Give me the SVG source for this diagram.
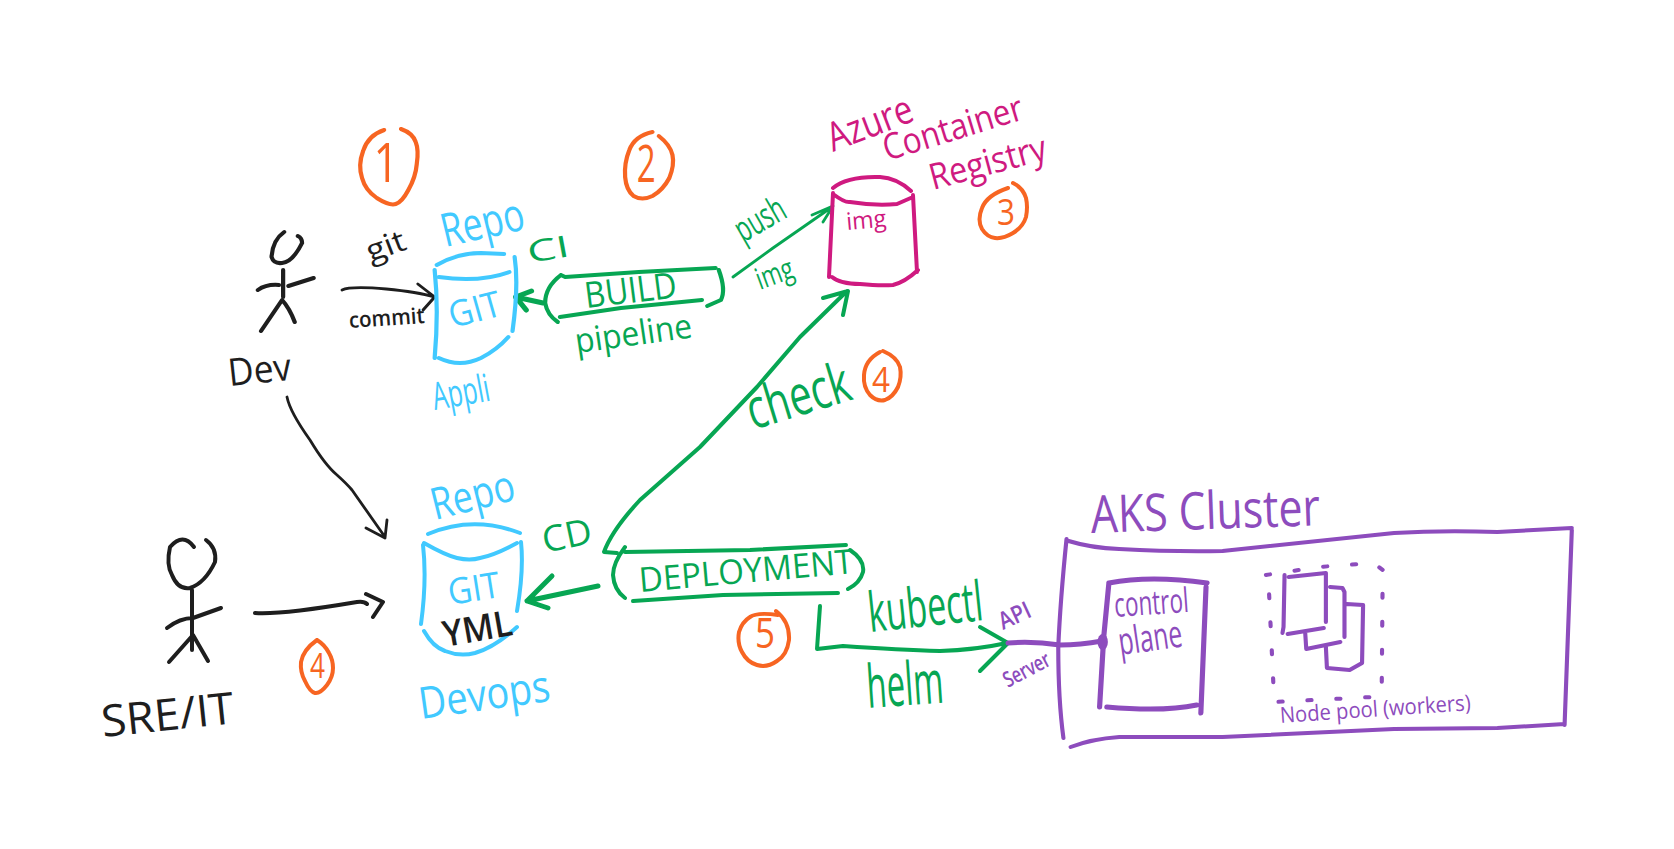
<svg xmlns="http://www.w3.org/2000/svg" width="1674" height="849" viewBox="0 0 1674 849">
<style>
path{fill:none;stroke-linecap:round;stroke-linejoin:round;stroke-width:4}
text{font-family:"Open Sans","Liberation Sans",sans-serif}
.o path,path.o{stroke:#f76522}.o text,text.o{fill:#f76522}
.b path{stroke:#41c9ff}.b text,text.b{fill:#41c9ff}
.g path,path.g{stroke:#07a653}.g text,text.g{fill:#07a653}
.m path{stroke:#cf1a80}.m text{fill:#cf1a80}
.p path,path.p{stroke:#8d4cbd}.p text,text.p{fill:#8d4cbd}
.k path,path.k{stroke:#1e1e1e}.k text,text.k{fill:#1e1e1e}
.t{stroke-width:2.8}.w{stroke-width:5}
</style>
<rect width="1674" height="849" fill="#fff"/>
<g id="connectors">
<path class="k t" transform="matrix(1.0523 0 0 1 -10.46 0)" d="M335 290Q343 286 377 289Q407 292 423 297M407 284L423 297L412 310"/>
<path class="k t" d="M287 397Q290 412 310 440Q325 465 337 475Q347 484 352 490L385 537M366 528L385 538L387 520"/>
<path class="k" d="M255 613Q280 615 357 602Q364 601 367 604M366 594L383 602L373 617"/>
<path class="g w" transform="matrix(1.0523 0 0 1 -10.46 0)" d="M526 303L500 297M515 291L500 297L510 310"/>
<path class="g t" d="M733 277L773 248L832 207M812 215L833 206L823 222"/>
<path class="g" d="M617 553L604 552Q612 530 640 500L700 447L757 387L800 337L847 291M823 298L848 291L843 315"/>
<path class="g w" d="M598 586L527 601M552 576L527 601L548 608"/>
<path class="g" d="M820 606L817 649L843 646Q900 650 940 651Q975 650 1007 643M980 627L1008 643L980 671"/>
<path class="p w" d="M1008 643Q1033 641 1060 645Q1080 645 1102 641"/>
</g>
<g id="badge-1" class="o" transform="matrix(1.0523 0 0 1 -10.46 0)"><path d="M375 130Q360 135 355 151Q350 165 354 178Q357 190 368 198Q380 206 386 204Q392 202 398 190Q405 177 406 164Q408 150 405 142Q402 133 391 129"/><text x="365" y="182" font-size="54" textLength="24" lengthAdjust="spacingAndGlyphs">1</text></g>
<g id="badge-2" class="o" transform="matrix(1.0523 0 0 1 -10.46 0)"><path d="M630 132Q613 136 608 150Q603 163 604 177Q605 190 612 196Q620 201 630 196Q640 190 646 178Q651 165 649 155Q647 145 636 136"/><text x="615" y="182" font-size="52" textLength="18" lengthAdjust="spacingAndGlyphs">2</text></g>
<g id="badge-3" class="o"><path d="M1008 188Q987 195 982 208Q977 220 982 229Q987 237 995 238Q1003 239 1013 233Q1023 227 1026 217Q1028 207 1026 198Q1023 188 1013 183"/><text x="997" y="225" font-size="36" textLength="18" lengthAdjust="spacingAndGlyphs">3</text></g>
<g id="badge-4-check" class="o"><path d="M880 352Q865 360 864 375Q863 387 870 395Q877 402 885 400Q893 397 898 387Q902 377 900 367Q897 357 883 351"/><text x="872" y="392" font-size="34" textLength="18" lengthAdjust="spacingAndGlyphs">4</text></g>
<g id="badge-4-sre" class="o"><path d="M317 640Q303 650 301 662Q300 672 305 681Q310 692 315 693Q320 694 327 685Q333 677 333 668Q333 660 329 653Q325 645 317 640"/><text x="310" y="678" font-size="34" textLength="15" lengthAdjust="spacingAndGlyphs">4</text></g>
<g id="badge-5" class="o"><path d="M776 611Q790 622 789 640Q787 655 777 661Q767 668 757 665Q747 662 742 652Q737 643 739 632Q742 622 750 617Q757 612 778 615"/><text x="755" y="648" font-size="42" textLength="20" lengthAdjust="spacingAndGlyphs">5</text></g>
<g id="dev" class="k" transform="matrix(1.0523 0 0 1 -10.46 0)"><path d="M280 232Q269 240 268 257Q270 264 278 263Q288 262 297 243Q297 238 293 236M279 270V297M255 290Q263 284 275 285M284 286L308 278M258 331L278 300Q285 308 290 322"/><text transform="translate(228 386) rotate(-6)" font-size="38" textLength="60" lengthAdjust="spacingAndGlyphs">Dev</text></g>
<g id="sre" class="k"><path d="M194 547Q183 532 170 547Q166 565 172 575Q178 590 190 588Q205 583 215 562Q217 548 206 540M192 590V650M167 628Q180 618 193 618L221 608M169 662L193 635L208 661"/><text transform="translate(103 737) rotate(-6)" font-size="44" textLength="133" lengthAdjust="spacingAndGlyphs">SRE/IT</text></g>
<g id="edge-labels-black" class="k" transform="matrix(1.0523 0 0 1 -10.46 0)"><text transform="translate(362 262) rotate(-20)" font-size="30" textLength="38" lengthAdjust="spacingAndGlyphs">git</text><text transform="translate(342 328) rotate(-4)" font-size="22" font-weight="600" textLength="72" lengthAdjust="spacingAndGlyphs">commit</text></g>
<g id="repo-app" class="b" transform="matrix(1.0523 0 0 1 -10.46 0)"><path d="M425 265Q445 253 467 253L489 254M499 257Q503 285 497 331M423 270Q427 310 423 358M427 277Q465 283 494 272M427 358Q447 368 467 358Q482 350 493 337"/><text transform="translate(433 247) rotate(-13)" font-size="46" textLength="80" lengthAdjust="spacingAndGlyphs">Repo</text><text transform="translate(440 328) rotate(-15)" font-size="36" textLength="50" lengthAdjust="spacingAndGlyphs">GIT</text><text transform="translate(423 410) rotate(-10)" font-size="38" textLength="55" lengthAdjust="spacingAndGlyphs">Appli</text></g>
<g id="build" class="g" transform="matrix(1.0523 0 0 1 -10.46 0)"><path d="M543 275L547 277L617 272L690 268M543 275Q528 287 528 303Q530 315 540 322M542 317L600 308L677 300M693 270Q700 290 695 300L682 306"/><text transform="translate(567 308) rotate(-7)" font-size="36" textLength="88" lengthAdjust="spacingAndGlyphs">BUILD</text><text transform="translate(513 263) rotate(-10)" font-size="30" textLength="40" lengthAdjust="spacingAndGlyphs">CI</text><text transform="translate(558 353) rotate(-8)" font-size="34" textLength="112" lengthAdjust="spacingAndGlyphs">pipeline</text></g>
<g id="acr" class="m"><path d="M833 188Q847 176 880 177Q897 178 911 191M833 193L829 277M913 195L917 272M833 194Q845 203 850 202Q875 206 897 204L913 197M832 277Q840 284 860 284Q880 286 893 285Q905 282 918 270"/><text transform="translate(847 230) rotate(-5)" font-size="24" textLength="40" lengthAdjust="spacingAndGlyphs">img</text><text transform="translate(833 152) rotate(-21)" font-size="40" textLength="89" lengthAdjust="spacingAndGlyphs">Azure</text><text transform="translate(887 161) rotate(-17)" font-size="36" textLength="145" lengthAdjust="spacingAndGlyphs">Container</text><text transform="translate(933 190) rotate(-15)" font-size="36" textLength="120" lengthAdjust="spacingAndGlyphs">Registry</text></g>
<g id="edge-labels-green" class="g"><text transform="translate(743 243) rotate(-30)" font-size="36" textLength="53" lengthAdjust="spacingAndGlyphs">push</text><text transform="translate(760 290) rotate(-20)" font-size="30" textLength="38" lengthAdjust="spacingAndGlyphs">img</text><text transform="translate(753 430) rotate(-17)" font-size="56" textLength="106" lengthAdjust="spacingAndGlyphs">check</text><text transform="translate(870 632) rotate(-6)" font-size="55" textLength="115" lengthAdjust="spacingAndGlyphs">kubectl</text><text transform="translate(868 708) rotate(-4)" font-size="60" textLength="77" lengthAdjust="spacingAndGlyphs">helm</text></g>
<g id="repo-devops" class="b"><path d="M428 534Q473 515 520 533M424 543Q445 555 457 558Q470 561 480 558Q495 555 517 543M423 545Q427 580 421 624M521 542Q524 570 517 611M424 631Q433 647 445 651Q460 657 475 653Q495 647 517 627"/><text transform="translate(435 520) rotate(-14)" font-size="44" textLength="85" lengthAdjust="spacingAndGlyphs">Repo</text><text transform="translate(450 605) rotate(-9)" font-size="36" textLength="52" lengthAdjust="spacingAndGlyphs">GIT</text><text class="k" transform="translate(445 647) rotate(-10)" font-size="36" font-weight="600" textLength="70" lengthAdjust="spacingAndGlyphs">YML</text><text transform="translate(421 719) rotate(-8)" font-size="44" textLength="132" lengthAdjust="spacingAndGlyphs">Devops</text></g>
<g id="deployment" class="g"><path d="M625 552L750 550L846 545M625 547Q613 563 613 575Q614 590 625 598M633 601L723 595L838 593M850 550Q865 560 863 572Q860 583 848 589"/><text transform="translate(640 592) rotate(-5)" font-size="34" textLength="215" lengthAdjust="spacingAndGlyphs">DEPLOYMENT</text><text transform="translate(545 553) rotate(-12)" font-size="36" textLength="50" lengthAdjust="spacingAndGlyphs">CD</text></g>
<g id="api-server" class="p"><text transform="translate(1003 630) rotate(-25)" font-size="24" font-weight="600" textLength="33" lengthAdjust="spacingAndGlyphs">API</text><text transform="translate(1008 688) rotate(-28)" font-size="22" font-weight="600" textLength="50" lengthAdjust="spacingAndGlyphs">Server</text></g>
<g id="aks-cluster" class="p" transform="matrix(1.0333 0 0 1 -34.97 0)"><path d="M1066 539Q1060 600 1058 647Q1058 700 1063 738M1068 541Q1090 548 1117 549Q1170 552 1217 551L1383 533Q1430 530 1483 532L1555 528M1555 530L1548 725M1548 724L1483 728L1383 729L1217 737L1117 737Q1090 739 1070 747"/><text transform="translate(1090 533) rotate(-2)" font-size="52" textLength="222" lengthAdjust="spacingAndGlyphs">AKS Cluster</text></g>
<g id="control-plane" class="p" transform="matrix(1.0333 0 0 1 -34.97 0)"><path class="w" d="M1107 583Q1147 575 1202 583M1107 583L1102 637L1098 707M1201 587L1196 713M1105 707Q1160 712 1192 705"/><ellipse cx="1101" cy="642" rx="5" ry="8" fill="#8d4cbd"/><text transform="translate(1113 617) rotate(-4)" font-size="34" textLength="72" lengthAdjust="spacingAndGlyphs">control</text><text transform="translate(1118 655) rotate(-8)" font-size="38" textLength="62" lengthAdjust="spacingAndGlyphs">plane</text></g>
<g id="node-pool" class="p" transform="matrix(1.0333 0 0 1 -34.97 0)"><path stroke-dasharray="4 24" d="M1259 575L1310 567L1363 563L1372 570L1371 693L1362 697L1267 702L1262 593Z"/><path d="M1281 577L1317 573L1317 622M1277 575L1276 627L1275 633M1280 634L1315 628M1321 587L1333 588L1335 592L1335 637M1297 633L1298 649L1331 642M1337 604L1353 605L1352 663L1340 670L1318 668L1317 647"/><text transform="translate(1273 723) rotate(-4)" font-size="22" textLength="185" lengthAdjust="spacingAndGlyphs">Node pool (workers)</text></g>
</svg>
